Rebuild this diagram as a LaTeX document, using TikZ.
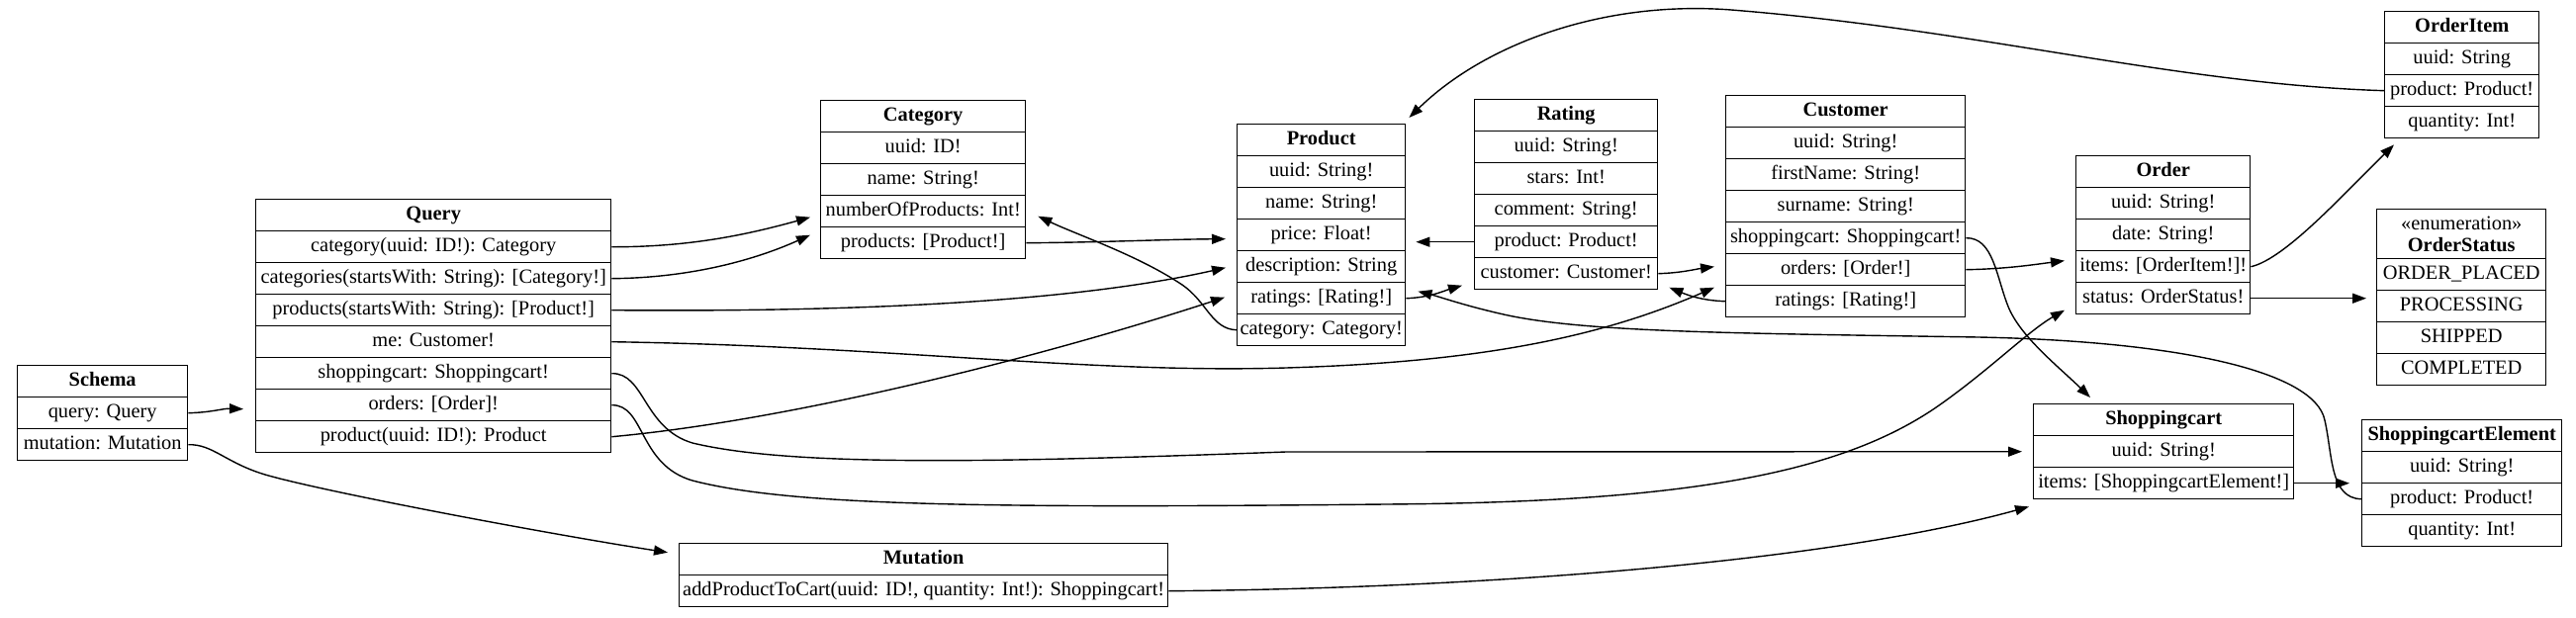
\documentclass[tikz,border=0pt]{standalone}
\usepackage{fontspec}
\setmainfont{Liberation Serif}[Ligatures=NoCommon]
\usetikzlibrary{arrows.meta,calc}
\begin{document}
\begin{tikzpicture}[x=1pt,y=-1pt,
  box/.style={draw=black, line width=1.4pt, inner sep=0pt, minimum height=32pt, anchor=north west, font=\fontsize{20.4}{22}\selectfont},
  cell/.style={box, text height=14pt, text depth=4.5pt},
  head/.style={cell, font=\fontsize{20.4}{22}\selectfont\bfseries},
  conn/.style={line width=1.4pt, -{Triangle[length=14pt,width=10pt]}},
  ]
\fill[white] (0,0) rectangle (2604,624);
\useasboundingbox (0,0) rectangle (2604,624);

% Schema
\node[head, minimum width=172pt] (s0) at (17,369) {Schema};
\node[cell, minimum width=172pt] (s-q) at (17,401) {query: Query};
\node[cell, minimum width=172pt] (s-m) at (17,433) {mutation: Mutation};

% Query
\node[head, minimum width=359pt] (q0) at (258,201) {Query};
\node[cell, minimum width=359pt] (q-cat) at (258,233) {category(uuid: ID!): Category};
\node[cell, minimum width=359pt] (q-cats) at (258,265) {categories(startsWith: String): [Category!]};
\node[cell, minimum width=359pt] (q-prods) at (258,297) {products(startsWith: String): [Product!]};
\node[cell, minimum width=359pt] (q-me) at (258,329) {me: Customer!};
\node[cell, minimum width=359pt] (q-sc) at (258,361) {shoppingcart: Shoppingcart!};
\node[cell, minimum width=359pt] (q-ord) at (258,393) {orders: [Order]!};
\node[cell, minimum width=359pt] (q-prod) at (258,425) {product(uuid: ID!): Product};

% Mutation
\node[head, minimum width=494pt] (m0) at (686,549) {Mutation};
\node[cell, minimum width=494pt] (m-add) at (686,581) {addProductToCart(uuid: ID!, quantity: Int!): Shoppingcart!};

% Category
\node[head, minimum width=207pt] (c0) at (829,101) {Category};
\node[cell, minimum width=207pt] (c-uuid) at (829,133) {uuid: ID!};
\node[cell, minimum width=207pt] (c-name) at (829,165) {name: String!};
\node[cell, minimum width=207pt] (c-nop) at (829,197) {numberOfProducts: Int!};
\node[cell, minimum width=207pt] (c-prods) at (829,229) {products: [Product!]};

% Product
\node[head, minimum width=170pt] (p0) at (1250,125) {Product};
\node[cell, minimum width=170pt] (p-uuid) at (1250,157) {uuid: String!};
\node[cell, minimum width=170pt] (p-name) at (1250,189) {name: String!};
\node[cell, minimum width=170pt] (p-price) at (1250,221) {price: Float!};
\node[cell, minimum width=170pt] (p-desc) at (1250,253) {description: String};
\node[cell, minimum width=170pt] (p-rat) at (1250,285) {ratings: [Rating!]};
\node[cell, minimum width=170pt] (p-cat) at (1250,317) {category: Category!};

% Rating
\node[head, minimum width=185pt] (r0) at (1490,100) {Rating};
\node[cell, minimum width=185pt] (r-uuid) at (1490,132) {uuid: String!};
\node[cell, minimum width=185pt] (r-stars) at (1490,164) {stars: Int!};
\node[cell, minimum width=185pt] (r-comm) at (1490,196) {comment: String!};
\node[cell, minimum width=185pt] (r-prod) at (1490,228) {product: Product!};
\node[cell, minimum width=185pt] (r-cust) at (1490,260) {customer: Customer!};

% Customer
\node[head, minimum width=242pt] (cu0) at (1744,96) {Customer};
\node[cell, minimum width=242pt] (cu-uuid) at (1744,128) {uuid: String!};
\node[cell, minimum width=242pt] (cu-first) at (1744,160) {firstName: String!};
\node[cell, minimum width=242pt] (cu-sur) at (1744,192) {surname: String!};
\node[cell, minimum width=242pt] (cu-sc) at (1744,224) {shoppingcart: Shoppingcart!};
\node[cell, minimum width=242pt] (cu-ord) at (1744,256) {orders: [Order!]};
\node[cell, minimum width=242pt] (cu-rat) at (1744,288) {ratings: [Rating!]};

% Order
\node[head, minimum width=176pt] (o0) at (2098,157) {Order};
\node[cell, minimum width=176pt] (o-uuid) at (2098,189) {uuid: String!};
\node[cell, minimum width=176pt] (o-date) at (2098,221) {date: String!};
\node[cell, minimum width=176pt] (o-items) at (2098,253) {items: [OrderItem!]!};
\node[cell, minimum width=176pt] (o-status) at (2098,285) {status: OrderStatus!};

% OrderItem
\node[head, minimum width=156pt] (oi0) at (2410,11) {OrderItem};
\node[cell, minimum width=156pt] (oi-uuid) at (2410,43) {uuid: String};
\node[cell, minimum width=156pt] (oi-prod) at (2410,75) {product: Product!};
\node[cell, minimum width=156pt] (oi-qty) at (2410,107) {quantity: Int!};

% OrderStatus
\node[box, minimum width=171pt, minimum height=50pt, align=center] (os0) at (2402,211) {«enumeration»\\\textbf{OrderStatus}};
\node[cell, minimum width=171pt] (os-1) at (2402,261) {ORDER\_PLACED};
\node[cell, minimum width=171pt] (os-2) at (2402,293) {PROCESSING};
\node[cell, minimum width=171pt] (os-3) at (2402,325) {SHIPPED};
\node[cell, minimum width=171pt] (os-4) at (2402,357) {COMPLETED};

% Shoppingcart
\node[head, minimum width=263pt] (sc0) at (2055,408) {Shoppingcart};
\node[cell, minimum width=263pt] (sc-uuid) at (2055,440) {uuid: String!};
\node[cell, minimum width=263pt] (sc-items) at (2055,472) {items: [ShoppingcartElement!]};

% ShoppingcartElement
\node[head, minimum width=202pt] (se0) at (2387,424) {ShoppingcartElement};
\node[cell, minimum width=202pt] (se-uuid) at (2387,456) {uuid: String!};
\node[cell, minimum width=202pt] (se-prod) at (2387,488) {product: Product!};
\node[cell, minimum width=202pt] (se-qty) at (2387,520) {quantity: Int!};

% Connectors
\draw[conn] (s-q.east) .. controls (215,417) and (225,413) .. ($(q-ord.west)+(-12,4)$);
\draw[conn] (s-m.east) .. controls (215,449) and (228,468) .. (268,480) .. controls (330,498) and (560,541) .. ($(m0.west)+(-11,-7)$);
\draw[conn] (q-cat.east) .. controls (700,250) and (760,236) .. ($(c-nop.west)+(-10,6)$);
\draw[conn] (q-cats.east) .. controls (700,281) and (765,262) .. ($(c-prods.west)+(-10,-8)$);
\draw[conn] (q-prods.east) .. controls (900,316) and (1100,302) .. ($(p-desc.west)+(-11,1)$);
\draw[conn] (q-me.east) .. controls (900,350) and (1100,378) .. (1300,372) .. controls (1500,366) and (1620,340) .. ($(cu-rat.west)+(-11,-14)$);
\draw[conn] (q-sc.east) .. controls (652,377) and (650,433) .. (700,448) .. controls (800,472) and (1000,468) .. (1300,457) -- ($(sc-uuid.west)+(-11,0)$);
\draw[conn] (q-ord.east) .. controls (652,409) and (645,470) .. (700,486) .. controls (800,512) and (1000,514) .. (1400,510) .. controls (1700,508) and (1860,480) .. (1960,410) .. controls (2010,375) and (2050,335) .. ($(o-status.west)+(-11,12)$);
\draw[conn] (q-prod.east) .. controls (800,425) and (1050,362) .. ($(p-rat.west)+(-12,-1)$);
\draw[conn] (c-prods.east) .. controls (1120,245) and (1180,242) .. ($(p-price.west)+(-11,4)$);
\draw[conn] (p-cat.west) .. controls (1225,333) and (1220,305) .. (1195,288) .. controls (1150,258) and (1090,238) .. ($(c-nop.east)+(12,5)$);
\draw[conn] (p-rat.east) .. controls (1445,301) and (1460,294) .. ($(r-cust.west)+(-12,12)$);
\draw[conn] (r-prod.west) -- ($(p-price.east)+(10,7)$);
\draw[conn] (r-cust.east) .. controls (1700,276) and (1715,272) .. ($(cu-ord.west)+(-11,-3)$);
\draw[conn] (cu-rat.west) .. controls (1720,304) and (1705,298) .. ($(r-cust.east)+(11,14)$);
\draw[conn] (cu-ord.east) .. controls (2030,272) and (2060,267) .. ($(o-items.west)+(-11,-6)$);
\draw[conn] (cu-sc.east) .. controls (2015,240) and (2018,280) .. (2030,310) .. controls (2042,340) and (2080,370) .. ($(sc0.north west)+(58,-6)$);
\draw[conn] (se-prod.west) .. controls (2355,504) and (2358,460) .. (2350,425) .. controls (2340,375) and (2200,345) .. (2000,341) .. controls (1750,337) and (1600,336) .. (1520,318) .. controls (1480,309) and (1455,300) .. ($(p-rat.east)+(12,-7)$);
\draw[conn] (sc-items.east) -- ($(se-prod.west)+(-12,-16)$);
\draw[conn] (m-add.east) .. controls (1500,595) and (1850,568) .. ($(sc-items.south west)+(-4,7)$);
\draw[conn] (oi-prod.west) .. controls (2200,85) and (2000,30) .. (1750,10) .. controls (1620,0) and (1500,45) .. ($(p0.north east)+(3,-6)$);
\draw[conn] (o-items.east) .. controls (2310,262) and (2370,195) .. ($(oi-qty.south west)+(10,6)$);
\draw[conn] (o-status.east) -- ($(os-2.west)+(-10,-8)$);
\end{tikzpicture}
\end{document}
